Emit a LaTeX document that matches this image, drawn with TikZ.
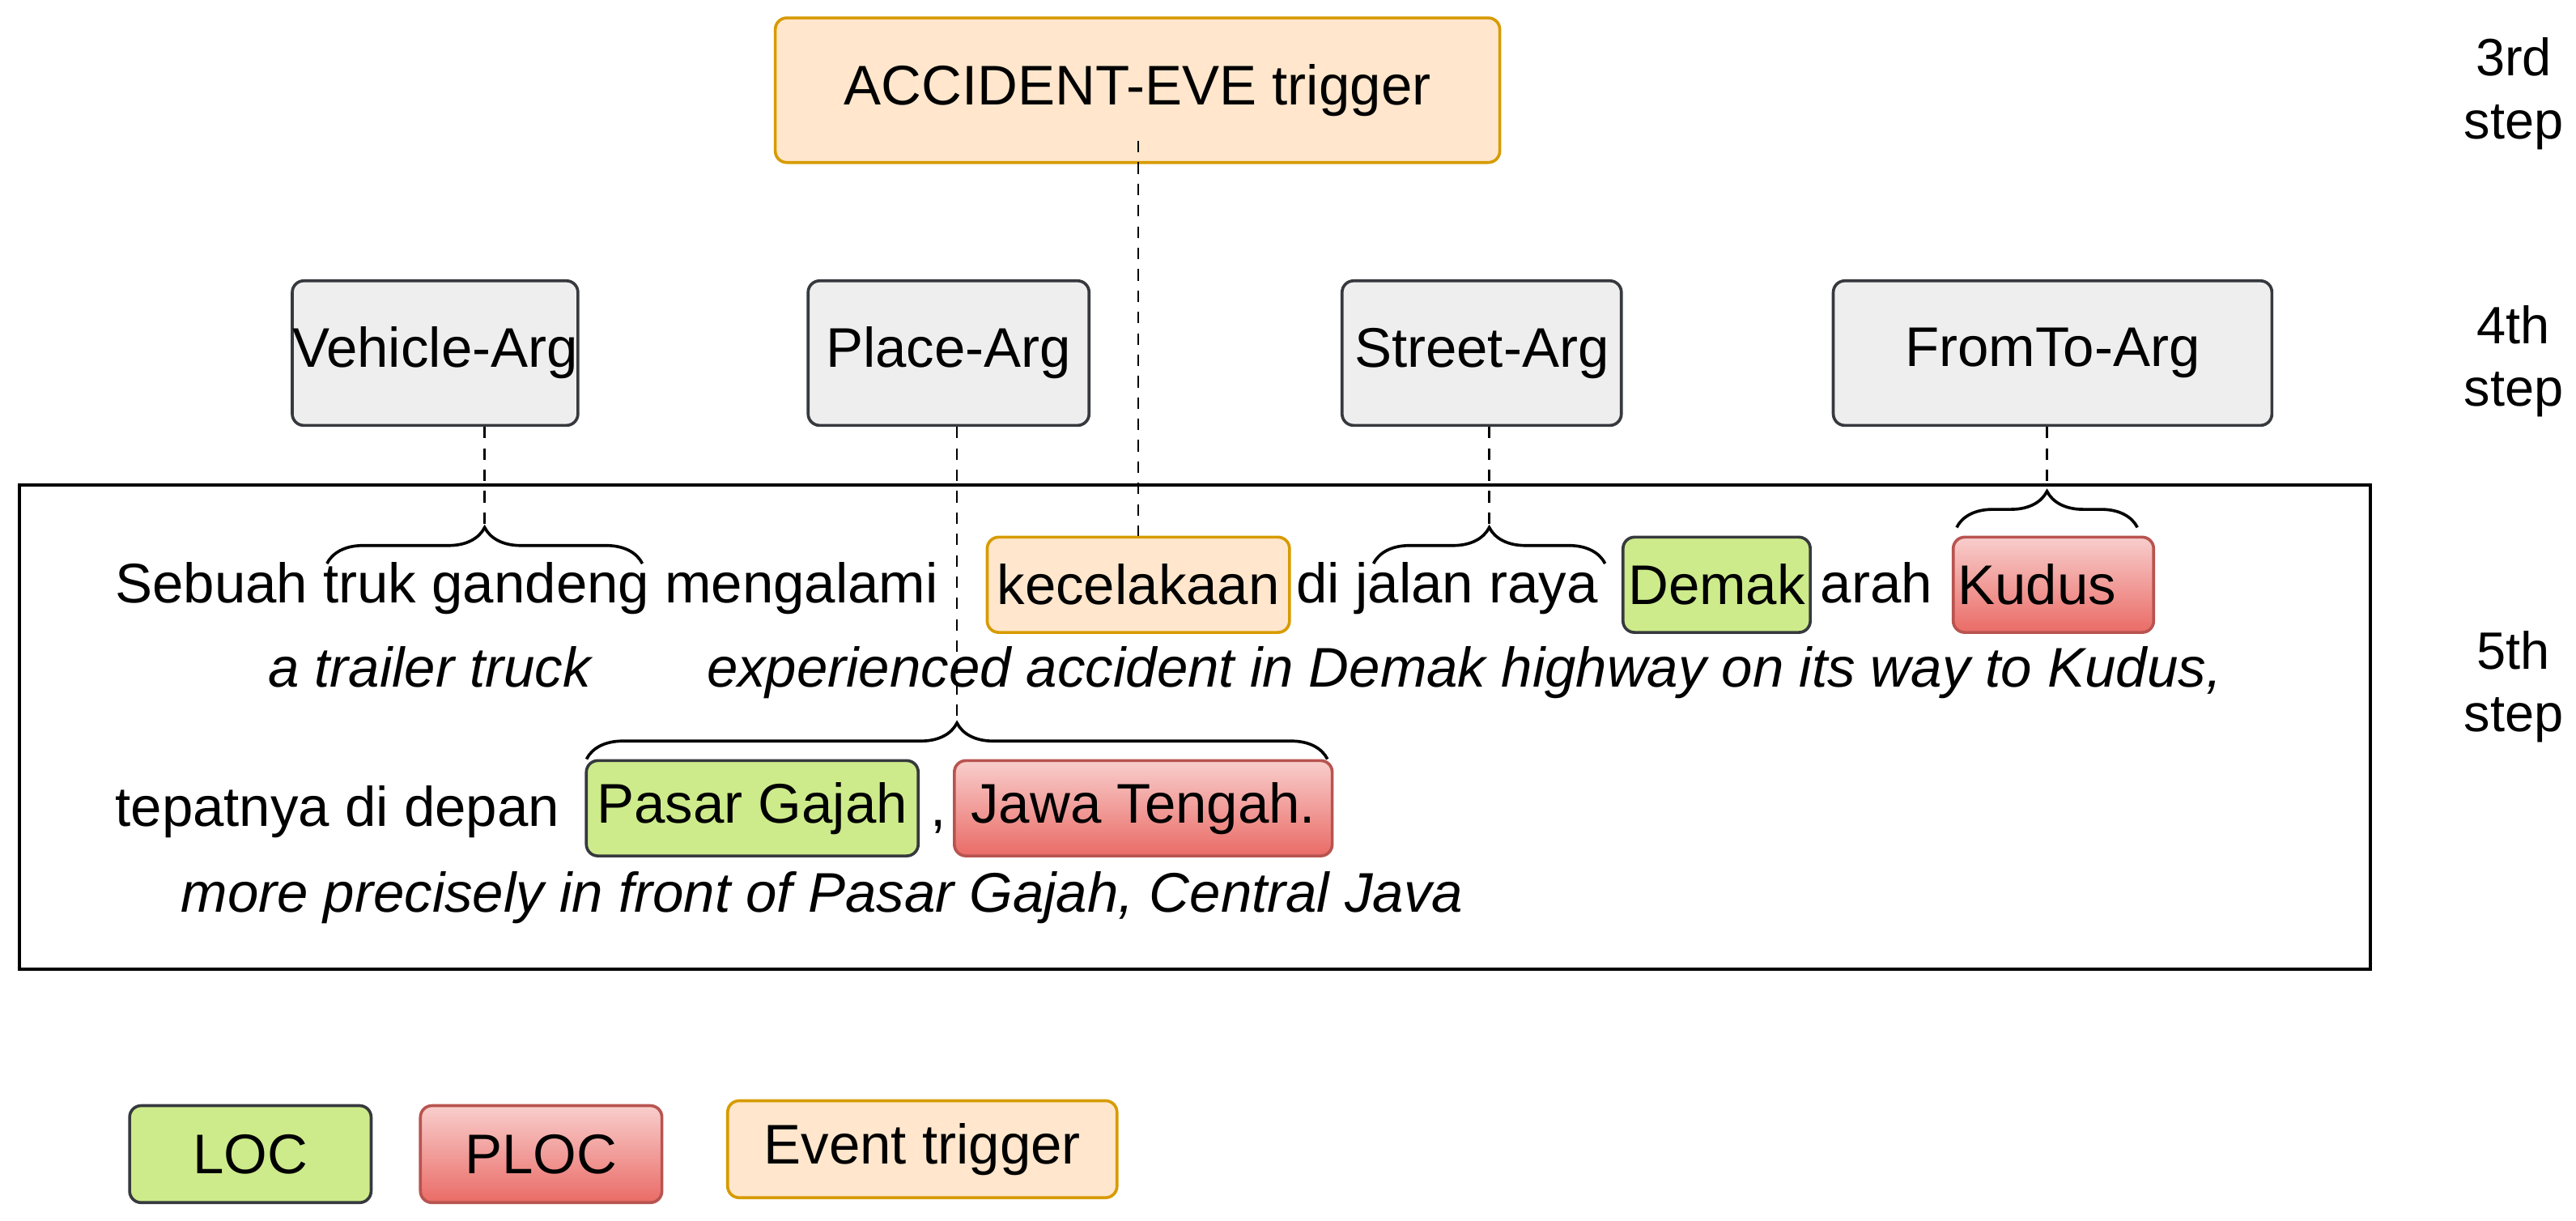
\documentclass[tikz,border=0pt]{standalone}
\usepackage{fontspec}
\setmainfont{Liberation Sans}
\usetikzlibrary{decorations.pathreplacing}
\definecolor{locf}{HTML}{CDEB8B}
\definecolor{dk}{HTML}{36393D}
\definecolor{plt}{HTML}{F8CECC}
\definecolor{plb}{HTML}{EA6B66}
\definecolor{pls}{HTML}{B85450}
\definecolor{evf}{HTML}{FFE6CC}
\definecolor{evs}{HTML}{D79B00}
\definecolor{argf}{HTML}{EEEEEE}
\tikzset{
  every node/.style={font=\fontsize{34}{40}\selectfont, inner sep=0pt},
  lbl/.style={draw, rounded corners=7pt, line width=1.8pt, anchor=north west},
  locbox/.style={lbl, fill=locf, draw=dk},
  plocbox/.style={lbl, top color=plt, bottom color=plb, draw=pls},
  evbox/.style={lbl, fill=evf, draw=evs},
  argbox/.style={lbl, fill=argf, draw=dk},
  plain/.style={anchor=base west},
  ital/.style={anchor=base west, font=\fontsize{34}{40}\selectfont\itshape},
  dsh/.style={dashed, dash pattern=on 7pt off 6pt, line width=1.3pt},
  brc/.style={decorate, decoration={brace, amplitude=22pt}, line width=1.8pt},
  steplbl/.style={align=center, font=\fontsize{32}{38}\selectfont},
}
\begin{document}
\begin{tikzpicture}[x=1pt,y=-1pt]
\useasboundingbox (0,0) rectangle (1568,743);
% frame
\draw[line width=2pt] (12,295) rectangle (1443,590);
% top box
\node[evbox, minimum width=441pt, minimum height=88pt] (acc) at (471,10) {ACCIDENT-EVE trigger};
% arg boxes
\node[argbox, minimum width=168pt, minimum height=88pt] (veh) at (177,170) {Vehicle-Arg};
\node[argbox, minimum width=171pt, minimum height=88pt] (pla) at (491,170) {Place-Arg};
\node[argbox, minimum width=170pt, minimum height=88pt] (str) at (816,170) {Street-Arg};
\node[argbox, minimum width=267pt, minimum height=88pt] (frt) at (1115,170) {FromTo-Arg};
% sentence line 1
\node[evbox, minimum width=184pt, minimum height=58pt] (kec) at (600,326) {kecelakaan};
\node[locbox, minimum width=114pt, minimum height=58pt] (dem) at (987,326) {Demak};
\node[plocbox, minimum width=122pt, minimum height=58pt] (kud) at (1188,326) {\hspace*{-20pt}Kudus};
\node[plain] (s1) at (70,367) {Sebuah truk gandeng mengalami};
\node[plain] (s2) at (789,367) {di jalan raya};
\node[plain] (s3) at (1108,367) {arah};
\node[ital] (t1) at (163,418) {a trailer truck};
\node[ital] (t2) at (430,418) {experienced accident in Demak highway on its way to Kudus,};
% sentence line 2
\node[locbox, minimum width=202pt, minimum height=58pt] (pas) at (356,462) {Pasar Gajah};
\node[plocbox, minimum width=230pt, minimum height=58pt] (jaw) at (580,462) {Jawa Tengah.};
\node[plain] (s4) at (70,503) {tepatnya di depan};
\node[plain] (s5) at (566,503) {,};
\node[ital] (t3) at (110,555) {more precisely in front of Pasar Gajah, Central Java};
% braces
\coordinate (b1l) at (199,343); \coordinate (b1r) at (391,343);
\coordinate (b2l) at (357,462); \coordinate (b2r) at (808,462);
\coordinate (b3l) at (836,343); \coordinate (b3r) at (977,343);
\coordinate (b4l) at (1191,321); \coordinate (b4r) at (1301,321);
\draw[brc] (b1l) -- (b1r);
\draw[brc] (b2l) -- (b2r);
\draw[brc] (b3l) -- (b3r);
\draw[brc] (b4l) -- (b4r);
\coordinate (t1c) at (295,321); \coordinate (t2c) at (582.5,440);
\coordinate (t3c) at (906.5,321); \coordinate (t4c) at (1246,299);
\draw[dsh] (veh.south -| t1c) -- (t1c);
\draw[dsh] (pla.south -| t2c) -- (t2c);
\draw[dsh] (str.south -| t3c) -- (t3c);
\draw[dsh] (frt.south -| t4c) -- (t4c);
\draw[dsh] ([yshift=14pt]acc.south -| kec.north) -- (kec.north);
% step labels
\node[steplbl] (st3) at (1530,57) {3rd\\step};
\node[steplbl] (st4) at (1530,220) {4th\\step};
\node[steplbl] (st5) at (1530,418) {5th\\step};
% legend
\node[locbox, minimum width=147pt, minimum height=59pt] (lg1) at (78,672) {LOC};
\node[plocbox, minimum width=147pt, minimum height=59pt] (lg2) at (255,672) {PLOC};
\node[evbox, minimum width=237pt, minimum height=59pt] (lg3) at (442,669) {Event trigger};
\end{tikzpicture}
\end{document}
